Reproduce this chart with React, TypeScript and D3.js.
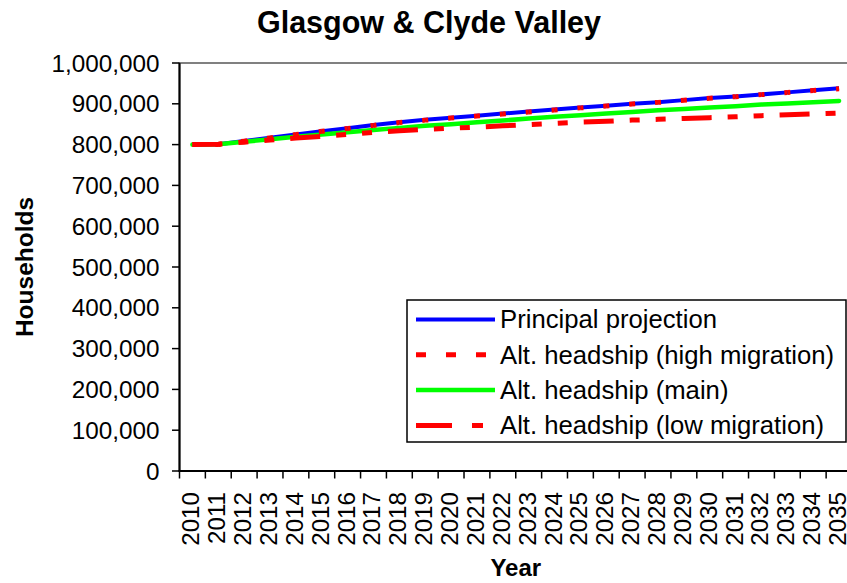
import React from "react";
import * as d3 from "d3";

const years = [2010,2011,2012,2013,2014,2015,2016,2017,2018,2019,2020,2021,2022,2023,2024,2025,2026,2027,2028,2029,2030,2031,2032,2033,2034,2035];
const principal = [800000,801000,809000,817000,825000,833000,840000,848000,855000,861000,866000,871000,876000,881000,886000,891000,895000,900000,904000,909000,914000,918000,923000,928000,933000,938000];
const highMigration = [800000,800500,808500,816500,824500,832500,839500,847000,854000,860000,865000,870000,875000,880000,885000,890000,894500,899500,903500,908500,913500,917500,922500,927500,932500,937000];
const altMain = [800000,801000,807000,813000,819000,825000,830000,836000,841000,846000,850000,855000,859000,864000,868000,872000,876000,880000,884000,887000,891000,894000,898000,901000,904000,907000];
const lowMigration = [800000,801000,806000,811000,816000,820000,825000,830000,834000,837000,840000,843000,846000,849000,852000,855000,857000,860000,862000,864000,866000,868000,871000,873000,875000,877000];
const yTicks = [0,100000,200000,300000,400000,500000,600000,700000,800000,900000,1000000];
const legendLabels = ["Principal projection","Alt. headship (high migration)","Alt. headship (main)","Alt. headship (low migration)"];

const W = 847, H = 583;
const L = 179.5, R = 852, T = 63, B = 471;
const FONT = "'Liberation Sans', Arial, sans-serif";

export default function App() {
  const x = d3.scaleBand<number>().domain(years).range([L, R]).padding(0);
  const y = d3.scaleLinear().domain([0, 1000000]).range([B, T]);
  const cx = (yr: number) => (x(yr) as number) + x.bandwidth() / 2;
  const line = d3.line<number>().x((_, i) => cx(years[i])).y((v) => y(v));
  const fmt = d3.format(",");
  const edges = [...years.map((yr) => x(yr) as number), R];

  const highPts = highMigration.map((v, i) => [cx(years[i]), y(v)] as [number, number]);
  const highSegs = d3.pairs(highPts);

  const legendY = (i: number) => 319.5 + i * 35.3;

  return (
    <svg width={W} height={H} style={{ position: "absolute", left: 0, top: 0, background: "#fff" }} fontFamily={FONT}>
      <rect x={0} y={0} width={W} height={H} fill="#fff" />
      <text x={429} y={33} textAnchor="middle" fontSize={30.5} fontWeight="bold">Glasgow &amp; Clyde Valley</text>

      {/* plot area border */}
      <rect x={L} y={T} width={R - L} height={B - T} fill="none" stroke="#808080" strokeWidth={2} />

      {/* series */}
      <path d={line(principal) || ""} fill="none" stroke="#0000ff" strokeWidth={4} strokeLinejoin="round" />
      <path d={line(altMain) || ""} fill="none" stroke="#00ff00" strokeWidth={4.5} strokeLinejoin="round" strokeLinecap="round" />
      {highSegs.map(([a, b], i) => {
        const len = Math.hypot(b[0] - a[0], b[1] - a[1]);
        return (
          <line key={i} x1={a[0]} y1={a[1]} x2={b[0]} y2={b[1]} stroke="#ff0000" strokeWidth={5}
            strokeDasharray={`3 ${len - 6} 3 0`} />
        );
      })}
      <path d={line(lowMigration) || ""} fill="none" stroke="#ff0000" strokeWidth={5} strokeDasharray="30 16 10 16 10 16" />

      {/* axes */}
      <line x1={L} y1={T} x2={L} y2={B} stroke="#000" strokeWidth={2} />
      <line x1={L - 1} y1={B} x2={R} y2={B} stroke="#000" strokeWidth={2} />
      {yTicks.map((t) => (
        <g key={t}>
          <line x1={L - 7.5} x2={L} y1={y(t)} y2={y(t)} stroke="#000" strokeWidth={1.5} />
          <text x={159.5} y={y(t)} dy="0.35em" textAnchor="end" fontSize={24.3}>{fmt(t)}</text>
        </g>
      ))}
      {edges.map((e, i) => (
        <line key={i} x1={e} x2={e} y1={B} y2={B + 7.5} stroke="#000" strokeWidth={1.5} />
      ))}
      {years.map((yr) => (
        <text key={yr} transform={`translate(${cx(yr) - 1.5},${492}) rotate(-90)`} dy="0.35em" textAnchor="end" fontSize={24.2}>{yr}</text>
      ))}
      <text x={(L + R) / 2} y={576} textAnchor="middle" fontSize={24} fontWeight="bold">Year</text>
      <text transform={`translate(33,${(T + B) / 2}) rotate(-90)`} textAnchor="middle" fontSize={24.5} fontWeight="bold">Households</text>

      {/* legend */}
      <rect x={407} y={300} width={439} height={142} fill="#fff" stroke="#000" strokeWidth={1.5} />
      <line x1={416} x2={495} y1={legendY(0)} y2={legendY(0)} stroke="#0000ff" strokeWidth={4} />
      <line x1={416} x2={487} y1={legendY(1)} y2={legendY(1)} stroke="#ff0000" strokeWidth={5} strokeDasharray="10 20" />
      <line x1={416} x2={495} y1={legendY(2)} y2={legendY(2)} stroke="#00ff00" strokeWidth={4.5} />
      <line x1={416} x2={483} y1={legendY(3)} y2={legendY(3)} stroke="#ff0000" strokeWidth={5} strokeDasharray="36 20 11" />
      {legendLabels.map((lab, i) => (
        <text key={lab} x={500} y={legendY(i)} dy="0.35em" fontSize={25.7}>{lab}</text>
      ))}
    </svg>
  );
}
